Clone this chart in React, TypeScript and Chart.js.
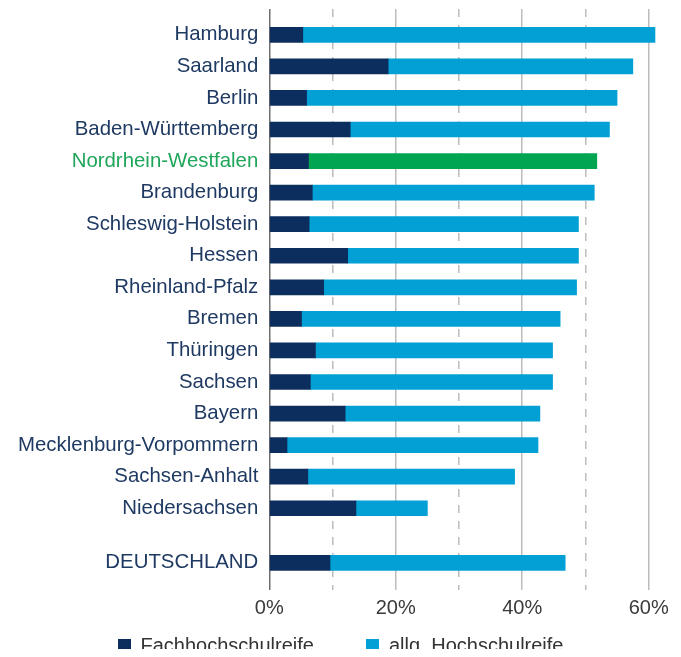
import React, { useEffect, useRef } from 'react';
import { Chart, registerables } from 'chart.js';

Chart.register(...registerables);

// ---- data ----
const regions = [
  'Hamburg',
  'Saarland',
  'Berlin',
  'Baden-Württemberg',
  'Nordrhein-Westfalen',
  'Brandenburg',
  'Schleswig-Holstein',
  'Hessen',
  'Rheinland-Pfalz',
  'Bremen',
  'Thüringen',
  'Sachsen',
  'Bayern',
  'Mecklenburg-Vorpommern',
  'Sachsen-Anhalt',
  'Niedersachsen',
  'DEUTSCHLAND',
];
const fachhochschulreife = [5.3, 18.8, 5.9, 12.8, 6.2, 6.8, 6.3, 12.4, 8.6, 5.1, 7.3, 6.5, 12.0, 2.8, 6.1, 13.7, 9.6];
const allgHochschulreife = [55.7, 38.7, 49.1, 41.0, 45.6, 44.6, 42.6, 36.5, 40.0, 40.9, 37.5, 38.3, 30.8, 39.7, 32.7, 11.3, 37.2];
const seriesNames = ['Fachhochschulreife', 'allg. Hochschulreife'];
const highlighted = 'Nordrhein-Westfalen';
const totalRow = 'DEUTSCHLAND';
const xTickValues = [0, 10, 20, 30, 40, 50, 60];
const xLabelledTicks = [0, 20, 40, 60];

// ---- layout / style constants ----
const TOTAL_GAP_ROWS = 1.73; // distance (in rows) between last state and the total row
const NAVY = '#0c2e5e';
const BLUE = '#02a0d5';
const GREEN = '#00a552';
const LABEL_NAVY = '#1f3a62';
const LABEL_GREEN = '#1fa65a';
const FONT = '"Liberation Sans", Arial, sans-serif';

const rowPos = regions.map((r, i) => (r === totalRow ? i - 1 + TOTAL_GAP_ROWS : i));

export default function App() {
  const ref = useRef<HTMLCanvasElement | null>(null);

  useEffect(() => {
    if (!ref.current) return;
    const chart = new Chart(ref.current, {
      type: 'bar',
      data: {
        datasets: [
          {
            label: seriesNames[0],
            data: regions.map((_, i) => ({ x: fachhochschulreife[i], y: rowPos[i] })),
            backgroundColor: NAVY,
            barThickness: 15,
            borderWidth: 0,
          },
          {
            label: seriesNames[1],
            data: regions.map((_, i) => ({ x: allgHochschulreife[i], y: rowPos[i] })),
            backgroundColor: regions.map((r) => (r === highlighted ? GREEN : BLUE)),
            barThickness: 15,
            borderWidth: 0,
          },
        ],
      } as any,
      options: {
        indexAxis: 'y',
        animation: false,
        responsive: false,
        maintainAspectRatio: false,
        events: [],
        layout: { padding: { top: 1, left: 0, right: 11.7, bottom: 0 } },
        plugins: {
          legend: { display: false },
          tooltip: { enabled: false },
        },
        scales: {
          y: {
            type: 'linear',
            reverse: true,
            stacked: true,
            offset: false,
            min: -0.8175,
            max: 17.59,
            afterBuildTicks: (s: any) => {
              s.ticks = rowPos.map((v) => ({ value: v }));
            },
            afterFit: (s: any) => {
              s.width = 261.3;
              s.paddingTop = 0;
              s.paddingBottom = 0;
            },
            grid: { display: false, drawTicks: false, offset: false },
            border: { display: false },
            ticks: {
              autoSkip: false,
              padding: 11,
              callback: (_v: any, i: number) => regions[i],
              color: (ctx: any) => (regions[ctx.index] === highlighted ? LABEL_GREEN : LABEL_NAVY),
              font: { family: FONT, size: 20.4 },
            },
          },
          x: {
            type: 'linear',
            stacked: true,
            min: 0,
            max: 62,
            afterBuildTicks: (s: any) => {
              s.ticks = xTickValues.map((v) => ({ value: v }));
            },
            afterFit: (s: any) => {
              s.height = 59;
              s.paddingLeft = 0;
              s.paddingRight = 0;
            },
            grid: {
              drawTicks: false,
              lineWidth: 1.5,
              color: (ctx: any) => (ctx.tick && ctx.tick.value === 0 ? '#6f6f6f' : '#bcbcbc'),
            },
            border: {
              display: false,
              dash: (ctx: any) => (ctx.tick && xLabelledTicks.indexOf(ctx.tick.value) < 0 ? [8, 8] : []),
            },
            ticks: {
              autoSkip: false,
              maxRotation: 0,
              padding: 6,
              color: '#3a3a3a',
              font: { family: FONT, size: 20 },
              callback: (v: any) => (xLabelledTicks.indexOf(Number(v)) >= 0 ? v + '%' : ''),
            },
          },
        },
      } as any,
    });
    return () => chart.destroy();
  }, []);

  const colors = [NAVY, BLUE];

  return (
    <div style={{ position: 'relative', width: 665, height: 641 }}>
      <canvas ref={ref} width={665} height={641} style={{ display: 'block', width: 665, height: 641 }} />
      <div
        style={{
          position: 'absolute',
          left: 0,
          top: 627,
          width: 665,
          height: 20,
          display: 'flex',
          justifyContent: 'center',
          alignItems: 'center',
          gap: 52,
          fontFamily: FONT,
          fontSize: 20,
          color: '#333333',
          lineHeight: '20px',
        }}
      >
        {seriesNames.map((n, i) => (
          <div key={n} style={{ display: 'flex', alignItems: 'center' }}>
            <span style={{ display: 'inline-block', width: 13, height: 13, background: colors[i], marginRight: 10 }} />
            <span>{n}</span>
          </div>
        ))}
      </div>
    </div>
  );
}
